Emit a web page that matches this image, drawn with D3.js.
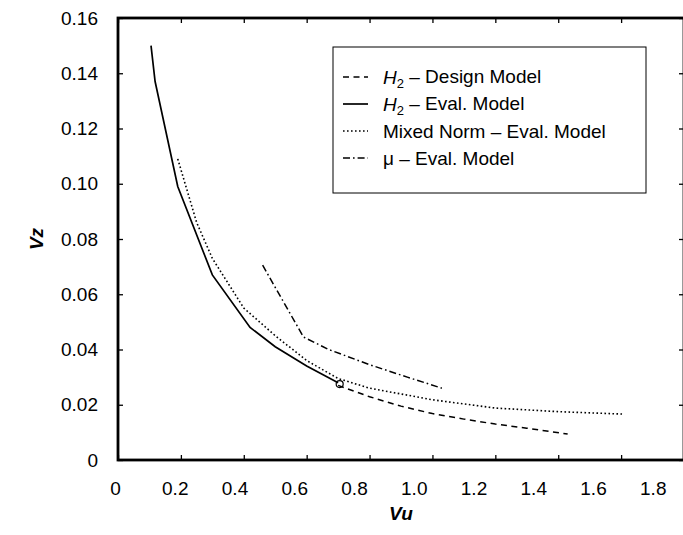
<!DOCTYPE html>
<html>
<head>
<meta charset="utf-8">
<script src="https://cdn.jsdelivr.net/npm/d3@7"></script>
<style>
  html, body { margin: 0; padding: 0; background: #fff; }
  svg { display: block; }
  text { font-family: "Liberation Sans", Arial, Helvetica, sans-serif; fill: #000; }
</style>
</head>
<body>
<svg id="chart" width="683" height="535"></svg>
<script>
// ---- data ----
const xTicks = [0, 0.2, 0.4, 0.6, 0.8, 1.0, 1.2, 1.4, 1.6, 1.8];
const xTickLabels = ["0", "0.2", "0.4", "0.6", "0.8", "1.0", "1.2", "1.4", "1.6", "1.8"];
const yTicks = [0, 0.02, 0.04, 0.06, 0.08, 0.10, 0.12, 0.14, 0.16];
const yTickLabels = ["0", "0.02", "0.04", "0.06", "0.08", "0.10", "0.12", "0.14", "0.16"];

const h2DesignVu = [0.70, 0.80, 0.90, 1.00, 1.10, 1.20, 1.30, 1.43];
const h2DesignVz = [0.0270, 0.0229, 0.0195, 0.0168, 0.0148, 0.0130, 0.0115, 0.0094];

const h2EvalVu = [0.105, 0.118, 0.19, 0.30, 0.42, 0.50, 0.60, 0.70];
const h2EvalVz = [0.150, 0.137, 0.099, 0.067, 0.048, 0.041, 0.034, 0.028];

const mixedVu = [0.19, 0.25, 0.30, 0.40, 0.50, 0.60, 0.70, 0.80, 1.00, 1.20, 1.40, 1.61];
const mixedVz = [0.109, 0.086, 0.073, 0.055, 0.045, 0.036, 0.0295, 0.026, 0.0218, 0.0188, 0.0175, 0.0166];

const muVu = [0.46, 0.59, 0.67, 0.80, 0.92, 1.03];
const muVz = [0.0705, 0.0445, 0.040, 0.0345, 0.030, 0.026];

const markerVu = [0.705];
const markerVz = [0.0275];

const seriesNames = ["H2 – Design Model", "H2 – Eval. Model", "Mixed Norm – Eval. Model", "μ – Eval. Model"];

// ---- layout ----
const svg = d3.select("#chart");
const L = 118, R = 684, T = 18, B = 460;
const x = d3.scaleLinear().domain([0, 1.8]).range([L, R]);
const y = d3.scaleLinear().domain([0, 0.16]).range([B, T]);

const styles = [
  { dash: "6,4.5", width: 1.5 },
  { dash: null, width: 1.7 },
  { dash: "1.6,2.4", width: 1.6 },
  { dash: "7,3,1.6,3", width: 1.5 }
];

// axes
const fontSize = 19;
const xAxis = d3.axisBottom(x).tickValues(xTicks).tickSize(-5).tickPadding(22)
  .tickFormat((d, i) => xTickLabels[i]);
const gx = svg.append("g").attr("transform", `translate(0,${B})`).call(xAxis);
gx.selectAll("text").attr("font-size", fontSize)
  .attr("dx", d => (-3 - 15.7 * d))
  .attr("font-family", "'Liberation Sans', Arial, sans-serif");

const yAxis = d3.axisLeft(y).tickValues(yTicks).tickSize(-5).tickPadding(20)
  .tickFormat((d, i) => yTickLabels[i]);
const gy = svg.append("g").attr("transform", `translate(${L},0)`).call(yAxis);
gy.selectAll("text").attr("font-size", fontSize)
  .attr("font-family", "'Liberation Sans', Arial, sans-serif");

const gt = svg.append("g").attr("transform", `translate(0,${T})`)
  .call(d3.axisTop(x).tickValues(xTicks).tickSize(-5).tickFormat(""));
const gr = svg.append("g").attr("transform", `translate(${R},0)`)
  .call(d3.axisRight(y).tickValues(yTicks).tickSize(-5).tickFormat(""));

[gx, gy, gt, gr].forEach(g => {
  g.select(".domain").remove();
  g.selectAll(".tick line").attr("stroke", "#000").attr("stroke-width", 1.3);
});

// frame
svg.append("rect").attr("x", L).attr("y", T).attr("width", R - L).attr("height", B - T)
  .attr("fill", "none").attr("stroke", "#000").attr("stroke-width", 2.8);

// curves
const line = d3.line().x(d => x(d[0])).y(d => y(d[1]));
const seriesData = [
  d3.zip(h2DesignVu, h2DesignVz),
  d3.zip(h2EvalVu, h2EvalVz),
  d3.zip(mixedVu, mixedVz),
  d3.zip(muVu, muVz)
];
seriesData.forEach((pts, i) => {
  svg.append("path").datum(pts).attr("d", line)
    .attr("fill", "none").attr("stroke", "#000")
    .attr("stroke-width", styles[i].width)
    .attr("stroke-dasharray", styles[i].dash);
});

// small open marker at junction
svg.selectAll("circle.mk").data(d3.zip(markerVu, markerVz)).enter().append("circle")
  .attr("class", "mk").attr("cx", d => x(d[0])).attr("cy", d => y(d[1])).attr("r", 3.5)
  .attr("fill", "none").attr("stroke", "#000").attr("stroke-width", 1.2);

// axis titles
svg.append("text").attr("x", (L + R) / 2).attr("y", 520).attr("text-anchor", "middle")
  .attr("font-size", 19).attr("font-weight", "bold").attr("font-style", "italic").text("Vu");
svg.append("text").attr("transform", `translate(43,${(T + B) / 2}) rotate(-90)`)
  .attr("text-anchor", "middle")
  .attr("font-size", 19).attr("font-weight", "bold").attr("font-style", "italic").text("Vz");

// legend
const lg = svg.append("g");
lg.append("rect").attr("x", 333).attr("y", 47).attr("width", 313).attr("height", 146)
  .attr("fill", "#fff").attr("stroke", "#000").attr("stroke-width", 1);
const rowY = [77, 104, 131, 158];
seriesNames.forEach((name, i) => {
  lg.append("line").attr("x1", 343).attr("x2", 368).attr("y1", rowY[i]).attr("y2", rowY[i])
    .attr("stroke", "#000").attr("stroke-width", styles[i].width)
    .attr("stroke-dasharray", styles[i].dash);
  const t = lg.append("text").attr("x", 383).attr("y", rowY[i]).attr("dy", "0.35em")
    .attr("font-size", 19);
  if (i < 2) {
    t.append("tspan").attr("font-style", "italic").text("H");
    t.append("tspan").attr("font-size", 13).attr("dy", "0.35em").text("2");
    t.append("tspan").attr("dy", "-0.25em").text(" " + name.slice(3));
  } else {
    t.text(name);
  }
});
</script>
</body>
</html>
